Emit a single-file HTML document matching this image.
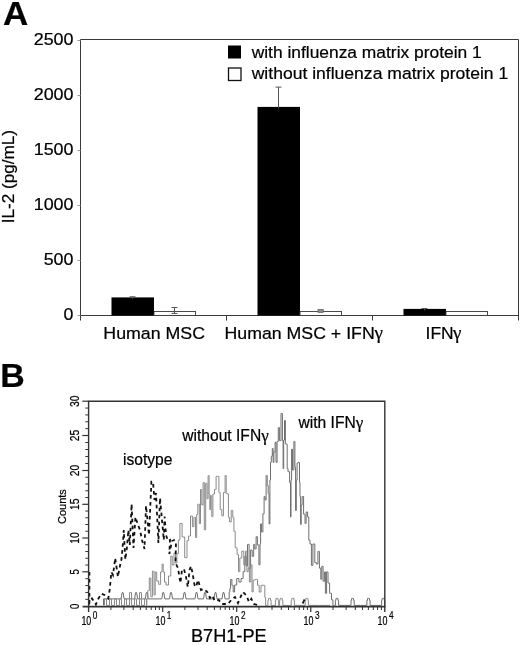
<!DOCTYPE html>
<html lang="en"><head><meta charset="utf-8"><title>Figure</title>
<style>html,body{margin:0;padding:0;background:#fff}svg{display:block}text{font-family:"Liberation Sans",sans-serif;fill:#000;stroke:#000;stroke-width:.22px}.g{font-family:"Liberation Serif",serif}</style></head><body>
<svg width="520" height="645" viewBox="0 0 520 645">
<rect width="520" height="645" fill="#fff"/>
<text transform="translate(3 25) scale(1.05 1)" font-size="33.3" font-weight="700">A</text>
<path d="M80.5 39.5H518.5V320.5M80.5 39.5V320.5M80.5 315.5H518.5" fill="none" stroke="#3a3a3a" stroke-width="1"/>
<path d="M226.5 315.5v5" stroke="#3a3a3a" stroke-width="1"/>
<path d="M372.5 315.5v5" stroke="#3a3a3a" stroke-width="1"/>
<path d="M77.5 315.5h3" stroke="#999" stroke-width="1"/>
<text x="73.5" y="320.2" font-size="17.1" textLength="9.9" lengthAdjust="spacingAndGlyphs" text-anchor="end">0</text>
<path d="M77.5 260.5h3" stroke="#999" stroke-width="1"/>
<text x="73.5" y="265.2" font-size="17.1" textLength="29.8" lengthAdjust="spacingAndGlyphs" text-anchor="end">500</text>
<path d="M77.5 205.5h3" stroke="#999" stroke-width="1"/>
<text x="73.5" y="210.2" font-size="17.1" textLength="39.8" lengthAdjust="spacingAndGlyphs" text-anchor="end">1000</text>
<path d="M77.5 150.5h3" stroke="#999" stroke-width="1"/>
<text x="73.5" y="155.2" font-size="17.1" textLength="39.8" lengthAdjust="spacingAndGlyphs" text-anchor="end">1500</text>
<path d="M77.5 95.5h3" stroke="#999" stroke-width="1"/>
<text x="73.5" y="100.2" font-size="17.1" textLength="39.8" lengthAdjust="spacingAndGlyphs" text-anchor="end">2000</text>
<path d="M77.5 40.5h3" stroke="#999" stroke-width="1"/>
<text x="73.5" y="45.2" font-size="17.1" textLength="39.8" lengthAdjust="spacingAndGlyphs" text-anchor="end">2500</text>
<text transform="translate(13.8 223.3) rotate(-90)" font-size="16.8" textLength="93.3" lengthAdjust="spacingAndGlyphs">IL-2 (pg/mL)</text>
<rect x="111.5" y="297.4" width="42.5" height="18.1" fill="#000"/>
<path d="M132.5 296.8V298.9M129.5 296.8h6" stroke="#555" stroke-width="1" fill="none"/>
<rect x="154" y="311.5" width="41.5" height="4.0" fill="#fff" stroke="#383838" stroke-width="0.9"/>
<path d="M174.5 307.5V313.9M171.5 307.5h6" stroke="#555" stroke-width="1" fill="none"/>
<path d="M171.5 313.4h6" stroke="#555" stroke-width="1" fill="none"/>
<rect x="257.5" y="106.9" width="42.5" height="208.6" fill="#000"/>
<path d="M278.5 87.1V108.4M275.5 87.1h6" stroke="#555" stroke-width="1" fill="none"/>
<rect x="300" y="311.5" width="41.5" height="4.0" fill="#fff" stroke="#383838" stroke-width="0.9"/>
<rect x="403.5" y="308.9" width="42.5" height="6.6" fill="#000"/>
<path d="M424.5 308.5V310.4M421.5 308.5h6" stroke="#555" stroke-width="1" fill="none"/>
<rect x="446" y="311.5" width="41.5" height="4.0" fill="#fff" stroke="#383838" stroke-width="0.9"/>
<rect x="318" y="309.6" width="5.2" height="2.8" fill="#8a8a8a" stroke="#555" stroke-width="0.7"/>
<text x="103.3" y="338.7" font-size="17.4" textLength="101.7" lengthAdjust="spacingAndGlyphs">Human MSC</text>
<text x="224.5" y="338.7" font-size="17.4" textLength="150.2" lengthAdjust="spacingAndGlyphs">Human MSC + IFN</text>
<text x="374.4" y="338.7" font-size="19" class="g">γ</text>
<text x="425.6" y="338.7" font-size="17.4">IFN</text>
<text x="453" y="338.7" font-size="19" class="g">γ</text>
<rect x="228" y="45.5" width="13" height="13" fill="#000"/>
<rect x="228.5" y="68" width="12.5" height="12.5" fill="#fff" stroke="#111" stroke-width="1.3"/>
<text x="251.7" y="57.8" font-size="17.4" textLength="230" lengthAdjust="spacingAndGlyphs">with influenza matrix protein 1</text>
<text x="251.7" y="78.7" font-size="17.4" textLength="256.5" lengthAdjust="spacingAndGlyphs">without influenza matrix protein 1</text>
<text transform="translate(0.3 387) scale(1.04 1)" font-size="32.6" font-weight="700">B</text>
<path d="M103.5 605.4L103.5 598.9L121.1 598.9L122.1 592.6L123.1 592.6L124.1 598.9L134.6 598.9L135.6 592.6L136.6 592.6L137.6 598.9L145.3 598.9L146.3 592.6L147.3 592.6L148.3 598.9L161.8 598.9L162.8 592.6L163.8 592.6L164.8 598.9L169.5 598.9L170.5 592.6L171.5 592.6L172.5 598.9L183.0 598.9L184.0 592.6L185.0 592.6L186.0 598.9L195.0 598.9L196.0 592.6L197.0 592.6L198.0 598.9L203.5 598.9L204.5 592.6L205.5 592.6L206.5 598.9L214.0 598.9L215.0 592.6L216.0 592.6L217.0 598.9L222.0 598.9L223.0 592.6L224.0 592.6L225.0 598.9L229.0 598.9L229.0 598.9H229.2V592.0H229.4H229.8V588.7H230.2H230.6V579.4H231.1H231.9V585.3H232.8H233.2V592.0H233.7H234.6V585.0H235.5H236.7V578.5H237.9H238.9V582.0H240.0H241.1V578.5H242.2H243.1V571.7H243.9H244.8V556.3H245.6H246.2V566.0H246.8H247.5V544.4H248.2H249.1V568.3H249.9H250.6V550.0H251.2H252.2V556.3H253.3H253.7V544.4H254.1H254.8V549.0H255.5H256.1V536.7H256.7H257.4V545.0H258.2H258.9V564.8H259.6H260.0V544.0H260.3H260.6V523.9H261.0H261.6V532.0H262.2H262.9V513.7H263.5H264.1V496.5H264.7H265.1V500.0H265.6H266.1V475.5H266.7H267.2V485.6H267.8H268.2V493.4H268.6H269.1V523.9H269.5H269.9V480.0H270.2H270.5V462.4H270.9H271.3V456.2H271.7H272.3V448.4H272.9H273.1V462.4H273.3H273.9V452.0H274.5H275.1V442.2H275.6H276.0V462.4H276.4H277.1V441.4H277.9H278.3V427.5H278.7H279.4V440.7H280.2H281.0V413.5H281.8H282.4V440.7H282.9H283.1V468.6H283.3H283.7V440.0H284.1H284.5V420.5H284.9H285.4V443.8H286.0H286.6V444.5H287.2H287.2V468.6H287.2H288.0V471.7H288.8H289.6V482.5H290.3H290.5V517.0H290.6H291.0V480.0H291.3H291.6V449.2H291.9H292.5V470.0H293.2H293.9V441.4H294.5H294.9V467.0H295.3H295.6V510.5H295.8H296.3V480.0H296.8H297.1V463.0H297.3H298.3V462.4H299.3H299.5V482.5H299.6H300.0V496.5H300.4H300.6V524.4H300.8H301.2V505.0H301.6H302.1V496.5H302.7H303.6V514.2H304.5H305.0V523.5H305.5H306.1V512.0H306.8H307.6V517.0H308.3H308.8V540.2H309.2H310.0V544.0H310.8H311.4V565.3H312.0H312.9V544.0H313.8H314.8V562.6H315.7H316.4V564.0H317.2H317.9V551.4H318.5H319.4V568.1H320.3H320.8V579.3H321.3H321.8V566.3H322.2H323.1V581.2H324.1H324.6V571.9H325.0H325.4V593.3H325.9H326.6V571.9H327.4H328.0V583.0H328.7H329.6V593.3H330.6H331.5V599.8H332.4H332.9V605.4H333.4H334.3V605.4H335.2H335.4V600.4H335.6H336.0V598.4H336.3H337.0V598.4H337.7H338.0V600.4H338.4H338.6V605.4H338.8H344.8V605.4H350.8H351.0V600.4H351.2H351.6V598.4H351.9H352.6V598.4H353.3H353.6V600.4H354.0H354.2V605.4H354.4H360.6V605.4H366.7H366.9V600.4H367.1H367.5V598.4H367.8H368.5V598.4H369.2H369.5V600.4H369.9H370.1V605.4H370.3H375.9V605.4H381.4H381.6V600.4H381.8H382.1V598.4H382.5H383.2V598.4H383.9H384.2V600.4H384.6H384.8V605.4H385.0" fill="none" stroke="#6e6e6e" stroke-width="1"/>
<path d="M104.5 605.4L104.5 598.9L106.5 598.9L106.5 605.4L109.5 605.4L109.5 598.9L111.5 598.9L111.5 605.4L114.5 605.4L114.5 598.9L116.5 598.9L116.5 605.4L119.5 605.4L119.5 598.9L121.5 598.9L121.5 605.4L124.5 605.4L124.5 598.9L126.5 598.9L126.5 605.4L129.5 605.4L129.5 592.6L131.5 592.6L131.5 605.4L134.5 605.4L134.5 598.9L136.5 598.9L136.5 605.4L139.5 605.4L139.5 592.6L141.5 592.6L141.5 605.4L144.5 605.4L144.5 598.9L146.5 598.9L146.5 605.4" fill="none" stroke="#8a8a8a" stroke-width="1"/>
<path d="M146.5 605.4H146.8V599.0H147.0H147.8V590.6H148.6H149.3V578.0H150.0H150.8V596.8H151.7H152.4V571.2H153.2H154.0V595.0H154.8H155.2V572.0H155.5H156.7V581.0H157.9H158.7V584.4H159.4H160.6V572.0H161.7H162.1V564.0H162.5H163.2V572.0H164.0H164.5V582.0H165.0H166.0V585.0H167.0H168.5V576.0H170.0H170.8V556.0H171.5H172.2V565.0H173.0H174.0V553.0H175.0H175.5V563.0H176.0H176.9V553.7H177.8H178.4V540.0H179.0H179.9V523.5H180.9H182.1V537.0H183.2H184.7V557.7H186.2H187.0V540.6H187.8H188.6V536.0H189.4H190.5V516.0H191.6H192.4V526.7H193.2H193.9V517.4H194.7H195.5V537.5H196.3H196.7V514.3H197.1H197.8V504.2H198.6H199.3V523.6H200.0H200.5V489.5H201.0H201.8V505.0H202.5H203.1V482.5H203.6H204.3V529.8H205.0H205.7V483.3H206.4H207.0V498.8H207.6H208.1V475.5H208.7H209.1V494.0H209.5H209.8V509.6H210.2H210.6V495.7H211.0H211.8V516.6H212.6H212.9V494.0H213.3H214.5V489.5H215.7H216.1V476.3H216.4H217.4V476.3H218.4H218.9V492.6H219.5H220.2V509.6H221.0H221.8V515.8H222.6H223.4V492.6H224.2H225.1V475.5H226.0H226.2V493.3H226.5H227.2V494.0H228.0H228.4V517.4H228.8H229.6V522.0H230.4H231.2V510.4H232.0H232.8V517.4H233.5H233.9V531.3H234.3H235.2V547.8H236.2H237.1V554.6H237.9H238.5V571.7H239.1H239.8V558.0H240.5H241.8V551.2H243.0H243.8V564.8H244.7H245.6V551.2H246.5H246.9V571.7H247.3H248.2V568.0H249.0H249.4V582.0H249.9H250.8V564.8H251.6H252.0V592.0H252.4H253.2V580.0H254.1H255.4V579.4H256.7H257.5V585.3H258.4H259.2V592.0H260.1H261.0V585.3H261.8H263.1V585.3H264.4H264.8V597.3H265.2H265.6V605.4H266.1H266.9V605.4H267.7H267.9V600.4H268.1H268.5V598.4H268.8H269.5V598.4H270.2H270.5V600.4H270.9H271.1V605.4H271.3H273.2V605.4H275.2H275.4V600.4H275.6H276.0V598.4H276.3H277.0V598.4H277.7H278.0V600.4H278.4H278.6V605.4H278.8H279.1V605.4H279.4H279.6V600.4H279.8H280.1V598.4H280.5H281.2V598.4H281.9H282.2V600.4H282.6H282.8V605.4H283.0H287.0V605.4H291.0H291.2V600.4H291.4H291.8V598.4H292.1H292.8V598.4H293.5H293.9V600.4H294.2H294.4V605.4H294.6H299.8V605.4H305.0H305.2V600.4H305.4H305.8V598.4H306.1H306.8V598.4H307.5H307.9V600.4H308.2H308.4V605.4H308.6H319.3V605.4H330.0" fill="none" stroke="#8a8a8a" stroke-width="1"/>
<path d="M89.4 572.0L89.4 603.0L92.0 598.5L95.9 604.5L98.2 599.0L101.3 593.7L105.2 595.3L108.3 598.4L109.8 589.0L110.6 580.0L111.4 572.0L113.0 575.0L115.2 558.0L117.9 577.0L119.5 568.0L121.4 559.6L122.5 549.0L123.8 530.0L124.5 545.0L125.3 559.6L126.9 548.0L128.4 530.0L129.8 545.0L131.6 504.0L133.5 548.0L135.4 517.0L137.7 524.0L140.0 530.0L142.0 540.0L144.5 549.0L146.0 505.7L147.5 520.0L149.0 535.0L151.4 481.6L153.0 481.6L154.5 500.0L156.0 493.0L158.4 543.0L160.0 498.0L162.0 520.0L163.8 540.0L164.6 516.5L166.0 535.0L168.0 541.0L170.0 540.0L169.3 554.0L172.0 541.0L174.0 540.0L176.0 542.0L175.5 563.0L178.0 568.0L180.4 583.0L182.0 570.0L184.0 569.0L186.0 577.0L187.8 587.0L189.5 570.0L191.0 566.0L192.7 574.0L194.5 585.0L196.0 587.0L198.0 580.0L201.0 590.0L204.0 589.0L207.3 592.0L210.0 598.0L212.0 595.4L215.0 601.0L218.7 600.0L222.0 604.0L228.0 604.0L232.0 599.0L235.0 597.0L238.0 603.0L241.0 596.0L243.0 592.0L246.4 595.4L249.0 602.0L251.3 598.7L254.0 604.0L257.8 605.0" fill="none" stroke="#111" stroke-width="1.8" stroke-dasharray="3.6 3.4"/>
<path d="M302.6 603.5L304.6 599.5" stroke="#1a1a1a" stroke-width="1.8"/>
<path d="M88.6 612.1V401.2H384.8V612.1" fill="none" stroke="#333" stroke-width="1.4"/>
<path d="M82.6 606.6H385.5" fill="none" stroke="#333" stroke-width="1.9"/>
<text transform="translate(79 608.9) rotate(-90)" font-size="13" textLength="5.3" lengthAdjust="spacingAndGlyphs" fill="#222">0</text>
<path d="M85.3 599.32H88.6" stroke="#333" stroke-width="1"/>
<path d="M85.3 592.44H88.6" stroke="#333" stroke-width="1"/>
<path d="M85.3 585.56H88.6" stroke="#333" stroke-width="1"/>
<path d="M85.3 578.68H88.6" stroke="#333" stroke-width="1"/>
<path d="M82.3 571.80H88.6" stroke="#333" stroke-width="1.2"/>
<text transform="translate(79 574.4) rotate(-90)" font-size="13" textLength="5.3" lengthAdjust="spacingAndGlyphs" fill="#222">5</text>
<path d="M85.3 565.04H88.6" stroke="#333" stroke-width="1"/>
<path d="M85.3 558.28H88.6" stroke="#333" stroke-width="1"/>
<path d="M85.3 551.52H88.6" stroke="#333" stroke-width="1"/>
<path d="M85.3 544.76H88.6" stroke="#333" stroke-width="1"/>
<path d="M82.3 538.00H88.6" stroke="#333" stroke-width="1.2"/>
<text transform="translate(79 543.8) rotate(-90)" font-size="13" textLength="11.5" lengthAdjust="spacingAndGlyphs" fill="#222">10</text>
<path d="M85.3 531.26H88.6" stroke="#333" stroke-width="1"/>
<path d="M85.3 524.52H88.6" stroke="#333" stroke-width="1"/>
<path d="M85.3 517.78H88.6" stroke="#333" stroke-width="1"/>
<path d="M85.3 511.04H88.6" stroke="#333" stroke-width="1"/>
<path d="M82.3 504.30H88.6" stroke="#333" stroke-width="1.2"/>
<text transform="translate(79 510.1) rotate(-90)" font-size="13" textLength="11.5" lengthAdjust="spacingAndGlyphs" fill="#222">15</text>
<path d="M85.3 497.54H88.6" stroke="#333" stroke-width="1"/>
<path d="M85.3 490.78H88.6" stroke="#333" stroke-width="1"/>
<path d="M85.3 484.02H88.6" stroke="#333" stroke-width="1"/>
<path d="M85.3 477.26H88.6" stroke="#333" stroke-width="1"/>
<path d="M82.3 470.50H88.6" stroke="#333" stroke-width="1.2"/>
<text transform="translate(79 476.2) rotate(-90)" font-size="13" textLength="11.5" lengthAdjust="spacingAndGlyphs" fill="#222">20</text>
<path d="M85.3 463.50H88.6" stroke="#333" stroke-width="1"/>
<path d="M85.3 456.50H88.6" stroke="#333" stroke-width="1"/>
<path d="M85.3 449.50H88.6" stroke="#333" stroke-width="1"/>
<path d="M85.3 442.50H88.6" stroke="#333" stroke-width="1"/>
<path d="M82.3 435.50H88.6" stroke="#333" stroke-width="1.2"/>
<text transform="translate(79 441.2) rotate(-90)" font-size="13" textLength="11.5" lengthAdjust="spacingAndGlyphs" fill="#222">25</text>
<path d="M85.3 428.64H88.6" stroke="#333" stroke-width="1"/>
<path d="M85.3 421.78H88.6" stroke="#333" stroke-width="1"/>
<path d="M85.3 414.92H88.6" stroke="#333" stroke-width="1"/>
<path d="M85.3 408.06H88.6" stroke="#333" stroke-width="1"/>
<path d="M82.3 401.20H88.6" stroke="#333" stroke-width="1.2"/>
<text transform="translate(79 406.9) rotate(-90)" font-size="13" textLength="11.5" lengthAdjust="spacingAndGlyphs" fill="#222">30</text>
<text transform="translate(66.3 524) rotate(-90)" font-size="11.6" textLength="34.8" lengthAdjust="spacingAndGlyphs" fill="#222">Counts</text>
<path d="M110.9 606.6v3.4" stroke="#333" stroke-width="1"/>
<path d="M123.9 606.6v3.4" stroke="#333" stroke-width="1"/>
<path d="M133.2 606.6v3.4" stroke="#333" stroke-width="1"/>
<path d="M140.4 606.6v3.4" stroke="#333" stroke-width="1"/>
<path d="M146.2 606.6v3.4" stroke="#333" stroke-width="1"/>
<path d="M151.2 606.6v3.4" stroke="#333" stroke-width="1"/>
<path d="M155.5 606.6v3.4" stroke="#333" stroke-width="1"/>
<path d="M159.3 606.6v3.4" stroke="#333" stroke-width="1"/>
<text x="81.4" y="625.2" font-size="12.4" textLength="9.9" lengthAdjust="spacingAndGlyphs" fill="#222">10</text>
<text x="92.8" y="619" font-size="11.6" textLength="4.6" lengthAdjust="spacingAndGlyphs" fill="#222">0</text>
<path d="M162.7 606.6v5.5" stroke="#333" stroke-width="1.2"/>
<path d="M184.9 606.6v3.4" stroke="#333" stroke-width="1"/>
<path d="M198.0 606.6v3.4" stroke="#333" stroke-width="1"/>
<path d="M207.2 606.6v3.4" stroke="#333" stroke-width="1"/>
<path d="M214.4 606.6v3.4" stroke="#333" stroke-width="1"/>
<path d="M220.3 606.6v3.4" stroke="#333" stroke-width="1"/>
<path d="M225.2 606.6v3.4" stroke="#333" stroke-width="1"/>
<path d="M229.5 606.6v3.4" stroke="#333" stroke-width="1"/>
<path d="M233.3 606.6v3.4" stroke="#333" stroke-width="1"/>
<text x="155.5" y="625.2" font-size="12.4" textLength="9.9" lengthAdjust="spacingAndGlyphs" fill="#222">10</text>
<text x="166.8" y="619" font-size="11.6" textLength="4.6" lengthAdjust="spacingAndGlyphs" fill="#222">1</text>
<path d="M236.7 606.6v5.5" stroke="#333" stroke-width="1.2"/>
<path d="M259.0 606.6v3.4" stroke="#333" stroke-width="1"/>
<path d="M272.0 606.6v3.4" stroke="#333" stroke-width="1"/>
<path d="M281.3 606.6v3.4" stroke="#333" stroke-width="1"/>
<path d="M288.5 606.6v3.4" stroke="#333" stroke-width="1"/>
<path d="M294.3 606.6v3.4" stroke="#333" stroke-width="1"/>
<path d="M299.3 606.6v3.4" stroke="#333" stroke-width="1"/>
<path d="M303.6 606.6v3.4" stroke="#333" stroke-width="1"/>
<path d="M307.4 606.6v3.4" stroke="#333" stroke-width="1"/>
<text x="229.5" y="625.2" font-size="12.4" textLength="9.9" lengthAdjust="spacingAndGlyphs" fill="#222">10</text>
<text x="240.9" y="619" font-size="11.6" textLength="4.6" lengthAdjust="spacingAndGlyphs" fill="#222">2</text>
<path d="M310.8 606.6v5.5" stroke="#333" stroke-width="1.2"/>
<path d="M333.0 606.6v3.4" stroke="#333" stroke-width="1"/>
<path d="M346.1 606.6v3.4" stroke="#333" stroke-width="1"/>
<path d="M355.3 606.6v3.4" stroke="#333" stroke-width="1"/>
<path d="M362.5 606.6v3.4" stroke="#333" stroke-width="1"/>
<path d="M368.4 606.6v3.4" stroke="#333" stroke-width="1"/>
<path d="M373.3 606.6v3.4" stroke="#333" stroke-width="1"/>
<path d="M377.6 606.6v3.4" stroke="#333" stroke-width="1"/>
<path d="M381.4 606.6v3.4" stroke="#333" stroke-width="1"/>
<text x="303.6" y="625.2" font-size="12.4" textLength="9.9" lengthAdjust="spacingAndGlyphs" fill="#222">10</text>
<text x="314.9" y="619" font-size="11.6" textLength="4.6" lengthAdjust="spacingAndGlyphs" fill="#222">3</text>
<text x="377.6" y="625.2" font-size="12.4" textLength="9.9" lengthAdjust="spacingAndGlyphs" fill="#222">10</text>
<text x="389.0" y="619" font-size="11.6" textLength="4.6" lengthAdjust="spacingAndGlyphs" fill="#222">4</text>
<text x="191" y="642.3" font-size="17.7" textLength="75.6" lengthAdjust="spacingAndGlyphs">B7H1-PE</text>
<text x="123" y="464.5" font-size="15.6">isotype</text>
<text x="182.3" y="441" font-size="15.6">without IFN<tspan class="g" font-size="17">γ</tspan></text>
<text x="298.5" y="428" font-size="15.6">with IFN<tspan class="g" font-size="17">γ</tspan></text>
</svg></body></html>
